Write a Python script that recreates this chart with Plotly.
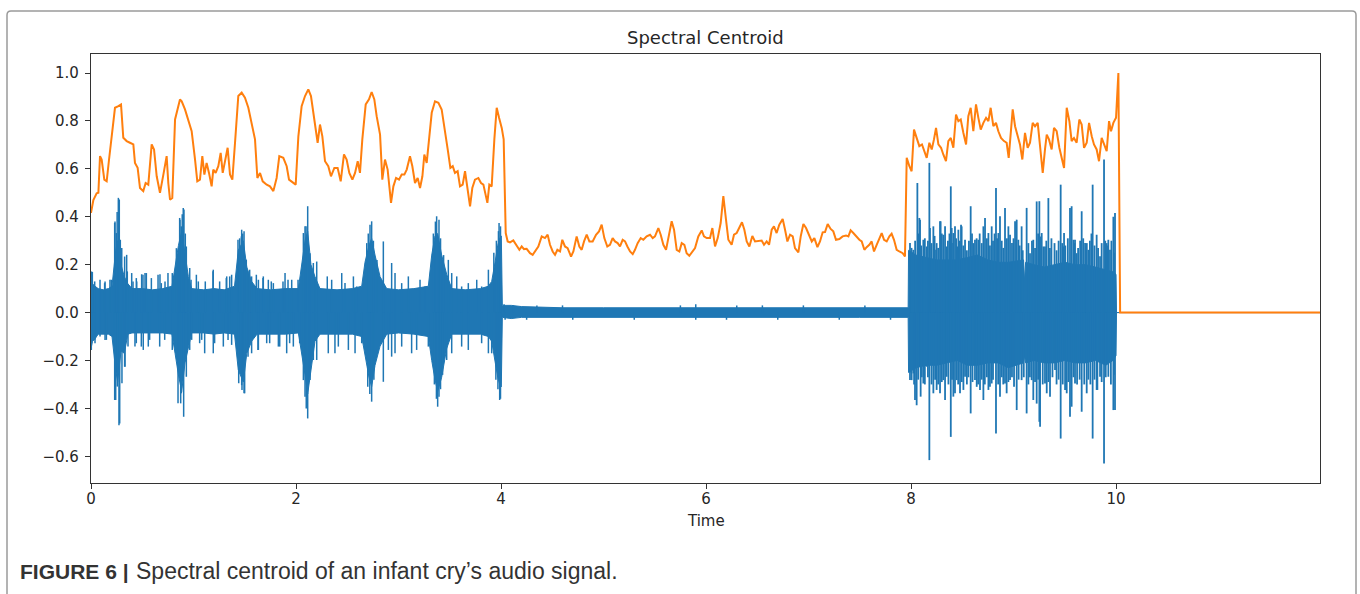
import plotly.graph_objects as go

# ---- spectral centroid (normalised), time in seconds ----
centroid_t = [
    0.000, 0.023, 0.055, 0.072, 0.088, 0.104, 0.130, 0.153, 0.176, 0.202, 0.234, 0.267, 0.293, 0.315,
    0.348, 0.380, 0.413, 0.429, 0.455, 0.478, 0.510, 0.533, 0.559, 0.592, 0.615, 0.641, 0.673, 0.706,
    0.738, 0.754, 0.771, 0.793, 0.820, 0.868, 0.885, 0.917, 0.950, 0.982, 1.015, 1.037, 1.063, 1.086,
    1.106, 1.128, 1.151, 1.177, 1.193, 1.216, 1.242, 1.265, 1.285, 1.307, 1.333, 1.356, 1.379, 1.405,
    1.437, 1.470, 1.502, 1.535, 1.567, 1.600, 1.623, 1.649, 1.675, 1.714, 1.746, 1.779, 1.811, 1.837,
    1.876, 1.909, 1.932, 1.974, 1.997, 2.023, 2.055, 2.088, 2.120, 2.146, 2.169, 2.192, 2.211, 2.234,
    2.257, 2.283, 2.315, 2.341, 2.374, 2.406, 2.436, 2.468, 2.494, 2.520, 2.550, 2.576, 2.602, 2.624,
    2.647, 2.680, 2.712, 2.738, 2.764, 2.787, 2.820, 2.842, 2.868, 2.894, 2.927, 2.950, 2.976, 3.005,
    3.031, 3.057, 3.080, 3.112, 3.135, 3.161, 3.187, 3.210, 3.233, 3.252, 3.275, 3.298, 3.324, 3.356,
    3.389, 3.421, 3.454, 3.480, 3.506, 3.529, 3.551, 3.577, 3.600, 3.626, 3.649, 3.675, 3.698, 3.720,
    3.746, 3.779, 3.805, 3.828, 3.844, 3.867, 3.886, 3.909, 3.935, 3.958, 3.981, 4.007, 4.026, 4.046,
    4.065, 4.088, 4.120, 4.153, 4.179, 4.202, 4.224, 4.250, 4.283, 4.309, 4.332, 4.364, 4.397, 4.429,
    4.455, 4.478, 4.504, 4.527, 4.550, 4.576, 4.598, 4.624, 4.650, 4.683, 4.706, 4.738, 4.764, 4.787,
    4.810, 4.836, 4.862, 4.894, 4.927, 4.956, 4.982, 5.008, 5.037, 5.063, 5.089, 5.112, 5.138, 5.161,
    5.187, 5.210, 5.233, 5.259, 5.285, 5.307, 5.333, 5.363, 5.389, 5.421, 5.454, 5.480, 5.502, 5.535,
    5.558, 5.584, 5.610, 5.633, 5.665, 5.688, 5.714, 5.740, 5.763, 5.789, 5.811, 5.837, 5.870, 5.893,
    5.925, 5.958, 5.980, 6.007, 6.039, 6.062, 6.088, 6.114, 6.143, 6.169, 6.195, 6.218, 6.250, 6.273,
    6.299, 6.325, 6.351, 6.374, 6.397, 6.423, 6.452, 6.478, 6.511, 6.543, 6.566, 6.592, 6.615, 6.641,
    6.663, 6.689, 6.715, 6.748, 6.771, 6.794, 6.820, 6.846, 6.868, 6.901, 6.924, 6.950, 6.976, 7.002,
    7.032, 7.057, 7.087, 7.112, 7.138, 7.161, 7.187, 7.216, 7.242, 7.268, 7.301, 7.333, 7.366, 7.389,
    7.411, 7.437, 7.463, 7.496, 7.519, 7.545, 7.567, 7.593, 7.616, 7.639, 7.665, 7.691, 7.714, 7.737,
    7.763, 7.789, 7.811, 7.834, 7.860, 7.886, 7.919, 7.941, 7.958, 7.984, 8.006, 8.029, 8.055, 8.081,
    8.107, 8.127, 8.153, 8.179, 8.202, 8.224, 8.244, 8.267, 8.293, 8.315, 8.341, 8.364, 8.388, 8.413,
    8.439, 8.462, 8.485, 8.511, 8.537, 8.559, 8.582, 8.608, 8.634, 8.657, 8.680, 8.706, 8.732, 8.755,
    8.777, 8.803, 8.829, 8.852, 8.878, 8.907, 8.933, 8.953, 8.976, 8.992, 9.015, 9.041, 9.063, 9.086,
    9.112, 9.138, 9.161, 9.187, 9.210, 9.236, 9.259, 9.285, 9.307, 9.324, 9.346, 9.372, 9.395, 9.421,
    9.447, 9.470, 9.493, 9.519, 9.545, 9.567, 9.590, 9.616, 9.642, 9.665, 9.688, 9.714, 9.737, 9.763,
    9.785, 9.811, 9.834, 9.860, 9.883, 9.909, 9.932, 9.951, 9.974, 10.000, 10.023, 10.040, 11.990,
]
centroid_v = [
    0.416, 0.470, 0.498, 0.500, 0.653, 0.639, 0.555, 0.548, 0.639, 0.750, 0.855, 0.862, 0.869, 0.730,
    0.716, 0.709, 0.702, 0.625, 0.604, 0.520, 0.507, 0.541, 0.534, 0.702, 0.681, 0.569, 0.500, 0.576,
    0.653, 0.541, 0.471, 0.478, 0.806, 0.890, 0.882, 0.848, 0.799, 0.757, 0.639, 0.548, 0.555, 0.653,
    0.576, 0.625, 0.583, 0.527, 0.597, 0.583, 0.611, 0.667, 0.583, 0.639, 0.688, 0.576, 0.555, 0.709,
    0.904, 0.918, 0.897, 0.855, 0.785, 0.723, 0.562, 0.583, 0.548, 0.534, 0.527, 0.507, 0.562, 0.653,
    0.646, 0.611, 0.555, 0.541, 0.534, 0.736, 0.862, 0.904, 0.932, 0.904, 0.834, 0.778, 0.709, 0.785,
    0.736, 0.632, 0.611, 0.569, 0.604, 0.604, 0.548, 0.660, 0.639, 0.583, 0.555, 0.583, 0.632, 0.583,
    0.723, 0.869, 0.890, 0.921, 0.890, 0.820, 0.743, 0.555, 0.639, 0.597, 0.458, 0.527, 0.562, 0.555,
    0.576, 0.576, 0.597, 0.653, 0.611, 0.541, 0.562, 0.520, 0.569, 0.660, 0.625, 0.723, 0.834, 0.882,
    0.876, 0.848, 0.764, 0.681, 0.604, 0.611, 0.583, 0.590, 0.527, 0.534, 0.590, 0.500, 0.443, 0.520,
    0.555, 0.562, 0.541, 0.534, 0.500, 0.458, 0.534, 0.527, 0.723, 0.855, 0.813, 0.771, 0.723, 0.332,
    0.297, 0.293, 0.301, 0.276, 0.262, 0.276, 0.265, 0.266, 0.248, 0.241, 0.255, 0.276, 0.318, 0.311,
    0.325, 0.283, 0.255, 0.241, 0.262, 0.255, 0.304, 0.276, 0.269, 0.234, 0.255, 0.318, 0.276, 0.262,
    0.297, 0.325, 0.297, 0.297, 0.325, 0.339, 0.367, 0.311, 0.276, 0.283, 0.311, 0.297, 0.290, 0.276,
    0.304, 0.297, 0.276, 0.255, 0.244, 0.262, 0.290, 0.311, 0.304, 0.318, 0.325, 0.311, 0.318, 0.353,
    0.325, 0.283, 0.262, 0.318, 0.381, 0.346, 0.262, 0.255, 0.290, 0.283, 0.248, 0.237, 0.255, 0.269,
    0.318, 0.343, 0.318, 0.311, 0.311, 0.353, 0.276, 0.311, 0.374, 0.486, 0.388, 0.304, 0.283, 0.325,
    0.332, 0.353, 0.377, 0.346, 0.297, 0.276, 0.320, 0.297, 0.300, 0.301, 0.283, 0.297, 0.283, 0.346,
    0.360, 0.332, 0.367, 0.391, 0.346, 0.297, 0.325, 0.318, 0.269, 0.251, 0.318, 0.370, 0.353, 0.325,
    0.297, 0.311, 0.273, 0.297, 0.335, 0.336, 0.370, 0.349, 0.339, 0.304, 0.307, 0.318, 0.322, 0.318,
    0.343, 0.332, 0.318, 0.304, 0.297, 0.262, 0.273, 0.283, 0.297, 0.255, 0.283, 0.311, 0.332, 0.304,
    0.297, 0.318, 0.329, 0.304, 0.262, 0.255, 0.248, 0.234, 0.646, 0.611, 0.590, 0.764, 0.729, 0.695,
    0.702, 0.681, 0.646, 0.709, 0.681, 0.723, 0.771, 0.702, 0.688, 0.660, 0.632, 0.716, 0.729, 0.688,
    0.827, 0.799, 0.806, 0.750, 0.702, 0.820, 0.855, 0.757, 0.869, 0.813, 0.764, 0.792, 0.813, 0.799,
    0.855, 0.778, 0.792, 0.757, 0.729, 0.716, 0.709, 0.646, 0.750, 0.848, 0.778, 0.736, 0.702, 0.639,
    0.750, 0.688, 0.709, 0.792, 0.778, 0.792, 0.702, 0.583, 0.681, 0.743, 0.723, 0.681, 0.771, 0.757,
    0.688, 0.639, 0.604, 0.855, 0.799, 0.716, 0.729, 0.709, 0.806, 0.785, 0.688, 0.709, 0.792, 0.736,
    0.702, 0.681, 0.632, 0.729, 0.702, 0.674, 0.799, 0.757, 0.792, 0.813, 1.000, 0.000, 0.000,
]

# ---- waveform: solid body of the signal (upper / lower edge) ----
env_t = [
    0.000, 0.015, 0.039, 0.070, 0.120, 0.170, 0.205, 0.218, 0.241, 0.260, 0.293, 0.325, 0.360, 0.400,
    0.500, 0.600, 0.700, 0.790, 0.820, 0.853, 0.885, 0.917, 0.950, 0.982, 1.100, 1.200, 1.300, 1.400,
    1.437, 1.486, 1.520, 1.567, 1.620, 1.750, 1.900, 2.023, 2.055, 2.088, 2.114, 2.146, 2.185, 2.234,
    2.400, 2.550, 2.641, 2.673, 2.712, 2.738, 2.771, 2.820, 2.885, 3.000, 3.150, 3.291, 3.324, 3.356,
    3.382, 3.421, 3.470, 3.519, 3.650, 3.800, 3.877, 3.909, 3.942, 3.968, 3.987, 4.003, 4.013, 4.100,
    4.200, 4.600, 5.000, 5.500, 6.000, 6.500, 7.000, 7.500, 7.972, 7.976, 8.050, 8.150, 8.250, 8.350,
    8.450, 8.550, 8.650, 8.750, 8.850, 8.950, 9.098, 9.108, 9.118, 9.200, 9.300, 9.400, 9.500, 9.600,
    9.700, 9.800, 9.900, 9.970, 10.000, 10.005, 11.990,
]
env_hi = [
    0.15, 0.12, 0.11, 0.10, 0.095, 0.10, 0.11, 0.16, 0.26, 0.30, 0.20, 0.15, 0.12, 0.10,
    0.10, 0.095, 0.10, 0.11, 0.19, 0.28, 0.34, 0.24, 0.15, 0.10, 0.095, 0.10, 0.095, 0.11,
    0.26, 0.30, 0.19, 0.13, 0.10, 0.095, 0.10, 0.10, 0.19, 0.30, 0.34, 0.20, 0.15, 0.10,
    0.095, 0.10, 0.11, 0.21, 0.28, 0.31, 0.24, 0.15, 0.10, 0.095, 0.10, 0.11, 0.24, 0.32,
    0.33, 0.24, 0.16, 0.10, 0.095, 0.10, 0.11, 0.13, 0.21, 0.28, 0.31, 0.32, 0.03, 0.03,
    0.025, 0.02, 0.02, 0.02, 0.02, 0.02, 0.02, 0.02, 0.02, 0.26, 0.24, 0.23, 0.22, 0.22,
    0.22, 0.23, 0.24, 0.22, 0.21, 0.21, 0.22, 0.13, 0.21, 0.20, 0.19, 0.20, 0.21, 0.20,
    0.20, 0.19, 0.18, 0.17, 0.16, 0.00, 0.00,
]
env_lo = [
    -0.15, -0.12, -0.11, -0.09, -0.09, -0.09, -0.10, -0.14, -0.24, -0.29, -0.16, -0.17, -0.09, -0.085,
    -0.085, -0.085, -0.085, -0.09, -0.17, -0.26, -0.33, -0.21, -0.15, -0.085, -0.085, -0.09, -0.085, -0.09,
    -0.24, -0.29, -0.17, -0.12, -0.09, -0.09, -0.09, -0.085, -0.17, -0.26, -0.34, -0.24, -0.12, -0.09,
    -0.09, -0.09, -0.10, -0.17, -0.27, -0.31, -0.22, -0.14, -0.09, -0.085, -0.09, -0.10, -0.20, -0.28,
    -0.33, -0.27, -0.15, -0.09, -0.09, -0.09, -0.10, -0.12, -0.20, -0.27, -0.30, -0.31, -0.02, -0.025,
    -0.02, -0.02, -0.02, -0.02, -0.02, -0.02, -0.02, -0.02, -0.02, -0.25, -0.23, -0.22, -0.22, -0.21,
    -0.20, -0.22, -0.22, -0.21, -0.21, -0.23, -0.21, -0.18, -0.21, -0.20, -0.21, -0.21, -0.20, -0.21,
    -0.21, -0.20, -0.22, -0.20, -0.18, 0.00, 0.00,
]

# ---- waveform: positive excursions beyond the body ----
up_t = [
    0.003, 0.013, 0.036, 0.088, 0.133, 0.137, 0.185, 0.198, 0.231, 0.234, 0.247, 0.255, 0.267, 0.270,
    0.276, 0.286, 0.300, 0.328, 0.348, 0.354, 0.397, 0.410, 0.442, 0.446, 0.494, 0.507, 0.527, 0.540,
    0.589, 0.654, 0.673, 0.686, 0.722, 0.751, 0.793, 0.800, 0.833, 0.865, 0.868, 0.881, 0.890, 0.900,
    0.907, 0.920, 0.930, 0.963, 0.976, 1.028, 1.047, 1.115, 1.190, 1.193, 1.255, 1.320, 1.324, 1.353,
    1.372, 1.434, 1.450, 1.467, 1.470, 1.480, 1.493, 1.515, 1.548, 1.567, 1.613, 1.633, 1.678, 1.681,
    1.730, 1.759, 1.779, 1.873, 1.893, 1.922, 1.958, 2.020, 2.072, 2.088, 2.098, 2.114, 2.137, 2.169,
    2.202, 2.305, 2.348, 2.446, 2.478, 2.560, 2.592, 2.690, 2.705, 2.722, 2.738, 2.755, 2.790, 2.852,
    2.933, 2.966, 3.031, 3.096, 3.210, 3.259, 3.340, 3.360, 3.372, 3.395, 3.410, 3.440, 3.486, 3.519,
    3.568, 3.616, 3.681, 3.763, 3.811, 3.877, 3.930, 3.955, 3.975, 3.981, 3.995,
    4.030, 4.120, 4.350, 4.600, 5.750, 5.900, 6.300, 6.550, 6.950, 7.550,
]
up_v = [
    0.171, 0.170, 0.130, 0.137, 0.123, 0.130, 0.137, 0.137, 0.374, 0.380, 0.332, 0.420, 0.479, 0.471,
    0.472, 0.304, 0.270, 0.234, 0.241, 0.172, 0.165, 0.130, 0.144, 0.130, 0.160, 0.158, 0.165, 0.165,
    0.144, 0.158, 0.160, 0.123, 0.130, 0.165, 0.165, 0.151, 0.269, 0.395, 0.388, 0.360, 0.410, 0.437,
    0.430, 0.330, 0.276, 0.186, 0.137, 0.158, 0.130, 0.130, 0.172, 0.179, 0.130, 0.144, 0.151, 0.151,
    0.158, 0.304, 0.310, 0.318, 0.346, 0.330, 0.339, 0.221, 0.179, 0.151, 0.158, 0.137, 0.144, 0.151,
    0.137, 0.130, 0.123, 0.130, 0.165, 0.137, 0.137, 0.137, 0.332, 0.360, 0.360, 0.444, 0.248, 0.207,
    0.213, 0.151, 0.137, 0.165, 0.123, 0.151, 0.109, 0.290, 0.330, 0.367, 0.381, 0.300, 0.220, 0.297,
    0.207, 0.165, 0.123, 0.151, 0.137, 0.109, 0.330, 0.380, 0.402, 0.388, 0.310, 0.240, 0.220, 0.165,
    0.151, 0.109, 0.123, 0.137, 0.109, 0.179, 0.250, 0.300, 0.340, 0.374, 0.360,
    0.035, 0.030, 0.030, 0.030, 0.030, 0.035, 0.030, 0.030, 0.030, 0.030,
]

# ---- waveform: negative excursions beyond the body ----
dn_t = [
    0.003, 0.036, 0.039, 0.088, 0.137, 0.150, 0.231, 0.241, 0.257, 0.273, 0.280, 0.302, 0.328, 0.332,
    0.361, 0.429, 0.442, 0.491, 0.510, 0.559, 0.572, 0.670, 0.719, 0.793, 0.849, 0.875, 0.881, 0.904,
    0.930, 0.963, 0.982, 1.060, 1.080, 1.109, 1.193, 1.206, 1.291, 1.337, 1.372, 1.441, 1.470, 1.473,
    1.493, 1.499, 1.532, 1.567, 1.629, 1.633, 1.714, 1.743, 1.828, 1.841, 1.909, 1.938, 1.974, 2.036,
    2.072, 2.088, 2.100, 2.114, 2.137, 2.169, 2.202, 2.315, 2.380, 2.413, 2.511, 2.576, 2.641, 2.700,
    2.720, 2.738, 2.760, 2.852, 2.901, 2.933, 2.966, 3.031, 3.128, 3.177, 3.291, 3.350, 3.370, 3.382,
    3.395, 3.410, 3.430, 3.470, 3.519, 3.616, 3.681, 3.811, 3.877, 3.909, 3.950, 3.970, 3.987, 3.995,
    4.040, 4.250, 4.700, 5.300, 5.900, 6.200, 6.700, 7.300, 7.800,
]
dn_v = [
    -0.156, -0.114, -0.128, -0.100, -0.114, -0.114, -0.365, -0.365, -0.309, -0.470, -0.463, -0.295, -0.226, -0.226,
    -0.142, -0.142, -0.128, -0.142, -0.156, -0.142, -0.114, -0.142, -0.114, -0.156, -0.379, -0.379, -0.337, -0.435,
    -0.268, -0.156, -0.114, -0.128, -0.114, -0.170, -0.170, -0.128, -0.142, -0.114, -0.135, -0.295, -0.303, -0.323,
    -0.337, -0.337, -0.184, -0.170, -0.156, -0.156, -0.128, -0.128, -0.142, -0.142, -0.170, -0.128, -0.142, -0.128,
    -0.282, -0.351, -0.400, -0.442, -0.282, -0.198, -0.198, -0.170, -0.170, -0.142, -0.156, -0.170, -0.128, -0.310,
    -0.340, -0.372, -0.280, -0.289, -0.156, -0.184, -0.170, -0.142, -0.170, -0.156, -0.142, -0.300, -0.360, -0.393,
    -0.351, -0.320, -0.260, -0.198, -0.170, -0.142, -0.156, -0.128, -0.170, -0.170, -0.280, -0.320, -0.365, -0.360,
    -0.030, -0.030, -0.030, -0.030, -0.030, -0.030, -0.030, -0.030, -0.030,
]

# ---- loud section 8-10 s: positive and negative excursions ----
loud_up_t = [
    7.990, 8.005, 8.023, 8.040, 8.062, 8.070, 8.081, 8.088, 8.100, 8.120, 8.135, 8.153, 8.165, 8.179,
    8.185, 8.200, 8.218, 8.230, 8.244, 8.250, 8.265, 8.283, 8.289, 8.300, 8.315, 8.332, 8.348, 8.360,
    8.375, 8.388, 8.397, 8.410, 8.413, 8.429, 8.440, 8.452, 8.462, 8.475, 8.488, 8.494, 8.510, 8.527,
    8.545, 8.565, 8.582, 8.595, 8.608, 8.624, 8.640, 8.657, 8.670, 8.690, 8.706, 8.722, 8.740, 8.755,
    8.770, 8.787, 8.800, 8.815, 8.829, 8.840, 8.852, 8.868, 8.885, 8.900, 8.917, 8.935, 8.950, 8.966,
    8.985, 9.000, 9.015, 9.031, 9.047, 9.060, 9.079, 9.090, 9.128, 9.145, 9.161, 9.180, 9.193, 9.210,
    9.226, 9.240, 9.252, 9.259, 9.275, 9.291, 9.307, 9.320, 9.340, 9.355, 9.370, 9.400, 9.420, 9.440,
    9.460, 9.475, 9.486, 9.493, 9.505, 9.530, 9.551, 9.567, 9.584, 9.595, 9.600, 9.616, 9.630, 9.650,
    9.665, 9.680, 9.698, 9.708, 9.715, 9.730, 9.745, 9.760, 9.772, 9.790, 9.811, 9.825, 9.844, 9.860,
    9.883, 9.895, 9.909, 9.915, 9.925, 9.941, 9.955, 9.974, 9.980, 9.990,
]
loud_up_v = [
    0.290, 0.270, 0.262, 0.300, 0.541, 0.330, 0.395, 0.388, 0.280, 0.304, 0.310, 0.276, 0.300, 0.625,
    0.353, 0.290, 0.360, 0.320, 0.262, 0.290, 0.270, 0.381, 0.381, 0.330, 0.325, 0.360, 0.276, 0.300,
    0.330, 0.527, 0.353, 0.290, 0.332, 0.360, 0.310, 0.276, 0.346, 0.300, 0.367, 0.360, 0.280, 0.304,
    0.260, 0.300, 0.444, 0.330, 0.290, 0.304, 0.310, 0.304, 0.330, 0.290, 0.360, 0.395, 0.310, 0.332,
    0.280, 0.360, 0.300, 0.330, 0.520, 0.310, 0.332, 0.402, 0.300, 0.270, 0.437, 0.310, 0.360, 0.325,
    0.290, 0.310, 0.381, 0.388, 0.304, 0.280, 0.360, 0.260, 0.437, 0.290, 0.248, 0.300, 0.304, 0.270,
    0.464, 0.330, 0.465, 0.318, 0.332, 0.276, 0.276, 0.300, 0.478, 0.270, 0.310, 0.290, 0.260, 0.300,
    0.534, 0.290, 0.276, 0.332, 0.280, 0.310, 0.437, 0.444, 0.304, 0.290, 0.304, 0.248, 0.270, 0.300,
    0.423, 0.310, 0.290, 0.276, 0.290, 0.262, 0.300, 0.330, 0.534, 0.280, 0.325, 0.270, 0.235, 0.290,
    0.639, 0.300, 0.290, 0.280, 0.304, 0.262, 0.300, 0.400, 0.250, 0.416,
]
loud_dn_t = [
    7.990, 7.995, 8.006, 8.023, 8.030, 8.039, 8.055, 8.070, 8.094, 8.105, 8.120, 8.135, 8.153, 8.165,
    8.179, 8.200, 8.218, 8.235, 8.250, 8.265, 8.283, 8.300, 8.315, 8.332, 8.348, 8.365, 8.388, 8.400,
    8.413, 8.429, 8.446, 8.460, 8.478, 8.495, 8.511, 8.527, 8.545, 8.560, 8.582, 8.600, 8.624, 8.641,
    8.655, 8.673, 8.690, 8.706, 8.720, 8.740, 8.755, 8.770, 8.787, 8.800, 8.829, 8.850, 8.868, 8.885,
    8.900, 8.917, 8.933, 8.950, 8.966, 8.985, 9.005, 9.031, 9.050, 9.079, 9.100, 9.128, 9.145, 9.160,
    9.177, 9.193, 9.210, 9.226, 9.240, 9.252, 9.259, 9.285, 9.307, 9.324, 9.340, 9.356, 9.380, 9.405,
    9.420, 9.440, 9.460, 9.480, 9.503, 9.519, 9.535, 9.551, 9.567, 9.585, 9.600, 9.620, 9.645, 9.665,
    9.690, 9.714, 9.730, 9.750, 9.772, 9.790, 9.811, 9.818, 9.844, 9.860, 9.883, 9.900, 9.925, 9.950,
    9.974, 9.980, 9.990,
]
loud_dn_v = [
    -0.282, -0.250, -0.282, -0.254, -0.300, -0.365, -0.387, -0.280, -0.351, -0.270, -0.296, -0.300, -0.226, -0.270,
    -0.616, -0.300, -0.337, -0.280, -0.323, -0.300, -0.337, -0.290, -0.282, -0.365, -0.268, -0.300, -0.519, -0.280,
    -0.351, -0.337, -0.282, -0.300, -0.337, -0.290, -0.323, -0.268, -0.300, -0.270, -0.421, -0.290, -0.282, -0.310,
    -0.300, -0.323, -0.280, -0.365, -0.300, -0.270, -0.323, -0.310, -0.296, -0.280, -0.505, -0.300, -0.351, -0.270,
    -0.300, -0.296, -0.337, -0.290, -0.282, -0.270, -0.310, -0.407, -0.280, -0.282, -0.270, -0.421, -0.300, -0.270,
    -0.282, -0.365, -0.290, -0.380, -0.280, -0.456, -0.477, -0.300, -0.296, -0.337, -0.290, -0.351, -0.270, -0.240,
    -0.300, -0.280, -0.526, -0.300, -0.323, -0.337, -0.290, -0.435, -0.393, -0.270, -0.296, -0.300, -0.280, -0.414,
    -0.300, -0.337, -0.280, -0.300, -0.526, -0.280, -0.323, -0.323, -0.268, -0.290, -0.630, -0.270, -0.268, -0.300,
    -0.407, -0.260, -0.407,
]

x_ticks = [0, 2, 4, 6, 8, 10]
y_ticks = [-0.6, -0.4, -0.2, 0.0, 0.2, 0.4, 0.6, 0.8, 1.0]
y_tick_text = ["\u22120.6", "\u22120.4", "\u22120.2", "0.0", "0.2", "0.4", "0.6", "0.8", "1.0"]

BLUE = "#1f77b4"
ORANGE = "#ff7f0e"
W, H = 1360, 594


def strokes(pairs):
    """Vertical strokes from the zero line to each excursion value."""
    xs, ys = [], []
    for ts, vs in pairs:
        for t, v in zip(ts, vs):
            xs += [t, t, None]
            ys += [0.0, v, None]
    return xs, ys


# waveform body as a closed polygon
body_x = list(env_t) + list(env_t[::-1])
body_y = list(env_hi) + list(env_lo[::-1])

quiet_x, quiet_y = strokes([(up_t, up_v), (dn_t, dn_v)])
loud_x, loud_y = strokes([(loud_up_t, loud_up_v), (loud_dn_t, loud_dn_v)])

fig = go.Figure()
fig.add_trace(go.Scatter(x=body_x, y=body_y, mode="lines", fill="toself",
                         fillcolor=BLUE, line=dict(color=BLUE, width=1.0),
                         hoverinfo="skip", showlegend=False))
fig.add_trace(go.Scatter(x=quiet_x, y=quiet_y, mode="lines",
                         line=dict(color=BLUE, width=1.5),
                         hoverinfo="skip", showlegend=False))
fig.add_trace(go.Scatter(x=loud_x, y=loud_y, mode="lines",
                         line=dict(color=BLUE, width=1.8),
                         hoverinfo="skip", showlegend=False))
fig.add_trace(go.Scatter(x=centroid_t, y=centroid_v, mode="lines",
                         line=dict(color=ORANGE, width=2.0),
                         showlegend=False))

x0, x1 = 91 / W, 1320 / W
y0, y1 = 1 - 483 / H, 1 - 54 / H
axis_font = dict(family="DejaVu Sans", size=15, color="#262626")
axis_common = dict(showgrid=False, zeroline=False, showline=True, mirror=True,
                   linecolor="#333333", linewidth=1.3, ticks="outside", ticklen=5,
                   tickwidth=1.2, tickcolor="#333333", tickfont=axis_font, automargin=False)

caption_y = 1 - 571 / H

fig.update_layout(
    width=W, height=H,
    margin=dict(l=0, r=0, t=0, b=0),
    paper_bgcolor="white", plot_bgcolor="white",
    xaxis=dict(domain=[x0, x1], range=[0, 11.99], tickvals=x_ticks,
               ticktext=[str(v) for v in x_ticks], ticklabelstandoff=-3, **axis_common),
    yaxis=dict(domain=[y0, y1], range=[-0.7115, 1.0795], tickvals=y_ticks,
               ticktext=y_tick_text, ticklabelstandoff=3, **axis_common),
    annotations=[
        dict(text="Spectral Centroid", x=705.5 / W, y=1 - 37 / H, xref="paper", yref="paper",
             xanchor="center", yanchor="middle", showarrow=False,
             font=dict(family="DejaVu Sans", size=18, color="#262626")),
        dict(text="Time", x=705.5 / W, y=1 - 521 / H, xref="paper", yref="paper",
             xanchor="center", yanchor="middle", showarrow=False,
             font=dict(family="DejaVu Sans", size=15, color="#262626")),
        dict(text="<b>FIGURE 6 |</b>", x=18 / W, y=caption_y, xref="paper", yref="paper",
             xanchor="left", yanchor="middle", showarrow=False,
             font=dict(family="Liberation Sans, Arial, sans-serif", size=21, color="#333333")),
        dict(text="Spectral centroid of an infant cry\u2019s audio signal.",
             x=134 / W, y=caption_y, xref="paper", yref="paper",
             xanchor="left", yanchor="middle", showarrow=False,
             font=dict(family="Liberation Sans, Arial, sans-serif", size=23, color="#333333")),
    ],
    shapes=[
        dict(type="path", xref="paper", yref="paper",
             path=f"M {7/W},-0.05 L {7/W},{1-15/H} Q {7/W},{1-11/H} {11/W},{1-11/H} "
                  f"L {1352/W},{1-11/H} Q {1356/W},{1-11/H} {1356/W},{1-15/H} L {1356/W},-0.05",
             line=dict(color="#9a9a9a", width=1.5)),
    ],
)

fig.write_html("out.html")
